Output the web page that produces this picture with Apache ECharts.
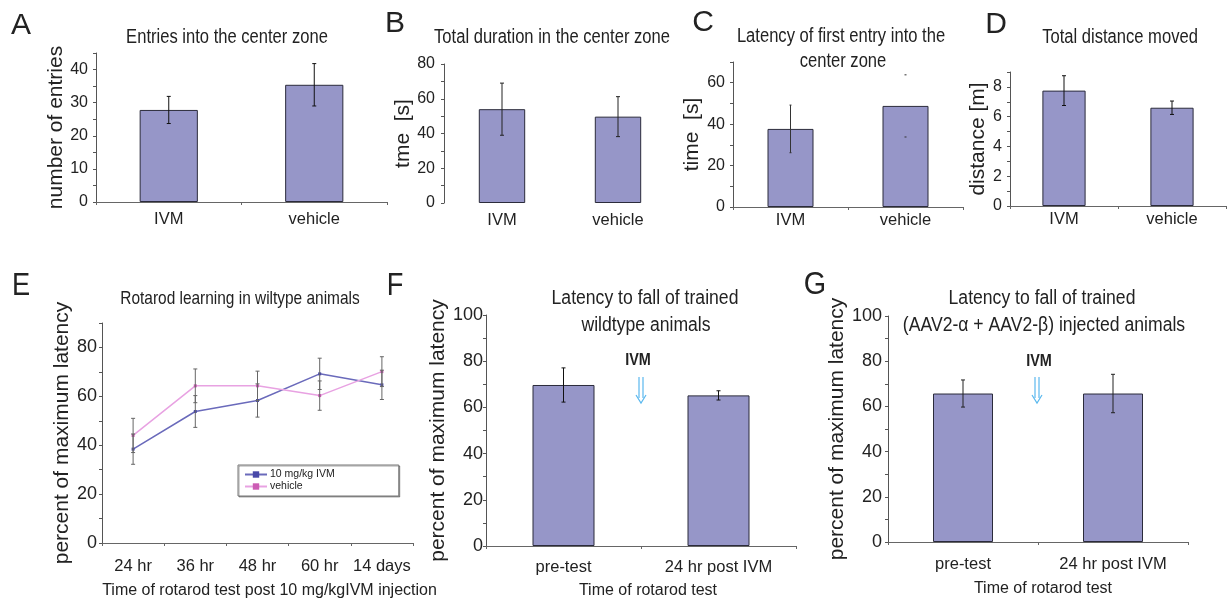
<!DOCTYPE html>
<html>
<head>
<meta charset="utf-8">
<script src="https://cdn.jsdelivr.net/npm/echarts@6/dist/echarts.min.js"></script>
<style>
  html, body { margin: 0; padding: 0; background: #fff; }
  #chart { width: 1227px; height: 605px; }
</style>
</head>
<body>
<div id="chart"></div>
<script>
// ---- data ----
const topCats = ['IVM', 'vehicle']
const entriesMean = [27.8, 35.4]
const entriesErr = [4.1, 6.4]
const durationMean = [54, 49.7]
const durationErr = [15, 11.5]
const latencyMean = [37.7, 48.8]
const latencyErr = [11.5, 15]
const distanceMean = [7.75, 6.6]
const distanceErr = [1, 0.45]

const rotarodCats = ['24 hr', '36 hr', '48 hr', '60 hr', '14 days']
const ivmLine = [38.4, 53.8, 58.3, 69.2, 64.7]
const ivmLineErr = [6.2, 6.5, 6.8, 6.4, 6]
const vehicleLine = [44, 64.3, 64.3, 60.3, 70.1]
const vehicleLineErr = [7, 6.9, 6, 6, 6.1]

const testCats = ['pre-test', '24 hr post IVM']
const wildtypeMean = [69.7, 65.2]
const wildtypeErr = [7.4, 2]
const aavMean = [65.7, 65.7]
const aavErr = [6, 8.5]

const FONT = '"Liberation Sans", Arial, sans-serif'
const TXT = '#222'
const BAR = '#9696c8'

const chart = echarts.init(document.getElementById('chart'), null, { renderer: 'canvas' })

// panel layout
const panels = [
  { grid: { left: 96, top: 53, width: 291, height: 149 }, cats: topCats, max: 45, step: 5, labelStep: 10,
    yName: 'number of entries', nameGap: 19, labelMargin: 8, tickFont: 16, catFont: 16.5, catMargin: 9, xLine: true },
  { grid: { left: 444, top: 64, width: 232, height: 139 }, cats: topCats, max: 80, step: 10, labelStep: 20,
    yName: 'tme  [s]', nameGap: 27, labelMargin: 9, tickFont: 16, catFont: 16.5, catMargin: 9, xLine: false },
  { grid: { left: 733, top: 62, width: 230, height: 145 }, cats: topCats, max: 70, step: 10, labelStep: 20,
    yName: 'time  [s]', nameGap: 30, labelMargin: 8, tickFont: 16, catFont: 16.5, catMargin: 5, xLine: true },
  { grid: { left: 1010, top: 72, width: 216, height: 134 }, cats: topCats, max: 9, step: 1, labelStep: 2,
    yName: 'distance [m]', nameGap: 16, labelMargin: 8, tickFont: 16, catFont: 16.5, catMargin: 5, xLine: true },
  { grid: { left: 102, top: 323, width: 311, height: 220 }, cats: rotarodCats, max: 90, step: 10, labelStep: 20,
    yName: 'percent of maximum latency', nameGap: 27, labelMargin: 5, tickFont: 18, catFont: 16.5, catMargin: 15, xLine: true,
    xName: 'Time of rotarod test post 10 mg/kgIVM injection', xNameGap: 40, xNameShift: 24 },
  { grid: { left: 486, top: 315, width: 310, height: 231 }, cats: testCats, max: 100, step: 10, labelStep: 20,
    yName: 'percent of maximum latency', nameGap: 25, labelMargin: 3, tickFont: 18, catFont: 16.5, catMargin: 13, xLine: true,
    xName: 'Time of rotarod test', xNameGap: 37, xNameShift: 14 },
  { grid: { left: 888, top: 316, width: 300, height: 226 }, cats: testCats, max: 100, step: 10, labelStep: 20,
    yName: 'percent of maximum latency', nameGap: 27, labelMargin: 6, tickFont: 18, catFont: 16.5, catMargin: 14, xLine: true,
    xName: 'Time of rotarod test', xNameGap: 39, xNameShift: 10 },
]

const grids = panels.map((p) => p.grid)

const xAxes = panels.map((p, i) => ({
  type: 'category',
  gridIndex: i,
  data: p.cats,
  axisLine: { show: p.xLine, lineStyle: { color: '#666', width: 1 } },
  axisTick: { show: p.xLine, length: 3, lineStyle: { color: '#666' } },
  axisLabel: { color: TXT, fontSize: p.catFont, fontFamily: FONT, margin: p.catMargin, interval: 0 },
  name: p.xName || '',
  nameLocation: 'middle',
  nameGap: p.xNameGap || 0,
  nameTextStyle: { color: TXT, fontSize: 16, fontFamily: FONT, padding: [0, 0, 0, p.xNameShift || 0] },
}))

const yAxes = panels.map((p, i) => ({
  type: 'value',
  gridIndex: i,
  min: 0,
  max: p.max,
  interval: p.step,
  splitLine: { show: false },
  axisLine: { show: true, lineStyle: { color: '#555', width: 1 } },
  axisTick: { show: true, length: 3, lineStyle: { color: '#555' } },
  axisLabel: {
    color: TXT, fontSize: p.tickFont, fontFamily: FONT, margin: p.labelMargin,
    formatter: (v) => (Math.round(v) % p.labelStep === 0 ? String(Math.round(v)) : ''),
  },
  name: p.yName,
  nameLocation: 'middle',
  nameGap: p.nameGap,
  nameTextStyle: { color: TXT, fontSize: 21, fontFamily: FONT },
}))

function barSeries(idx, name, values) {
  return {
    type: 'bar',
    name,
    xAxisIndex: idx,
    yAxisIndex: idx,
    data: values,
    barWidth: '40%',
    itemStyle: { color: BAR, borderColor: '#2b2b3b', borderWidth: 1 },
    silent: true,
  }
}

function errorSeries(idx, mean, err, opts) {
  return {
    type: 'custom',
    xAxisIndex: idx,
    yAxisIndex: idx,
    z: 5,
    silent: true,
    data: mean.map((m, i) => [i, m - err[i], m + err[i]]),
    encode: { x: 0, y: [1, 2] },
    renderItem: (params, api) => {
      const lo = api.coord([api.value(0), api.value(1)])
      const hi = api.coord([api.value(0), api.value(2)])
      const style = { stroke: opts.color, lineWidth: 1 }
      const cap = opts.cap
      const children = [
        { type: 'line', shape: { x1: lo[0] - cap, y1: lo[1], x2: lo[0] + cap, y2: lo[1] }, style },
        { type: 'line', shape: { x1: hi[0] - cap, y1: hi[1], x2: hi[0] + cap, y2: hi[1] }, style },
      ]
      if (!(opts.noStem && opts.noStem[params.dataIndex])) {
        children.push({ type: 'line', shape: { x1: lo[0], y1: lo[1], x2: hi[0], y2: hi[1] }, style })
      }
      return { type: 'group', children }
    },
  }
}

function lineSeries(idx, name, values, lineColor, dotColor) {
  return {
    type: 'line',
    name,
    xAxisIndex: idx,
    yAxisIndex: idx,
    data: values,
    symbol: 'rect',
    symbolSize: 3,
    showSymbol: true,
    lineStyle: { color: lineColor, width: 1.5 },
    itemStyle: { color: dotColor },
    z: 3,
  }
}

const series = [
  barSeries(0, 'entries', entriesMean),
  errorSeries(0, entriesMean, entriesErr, { color: '#111', cap: 2 }),
  barSeries(1, 'duration', durationMean),
  errorSeries(1, durationMean, durationErr, { color: '#222', cap: 2 }),
  barSeries(2, 'latency', latencyMean),
  errorSeries(2, latencyMean, latencyErr, { color: '#333', cap: 1, noStem: [false, true] }),
  barSeries(3, 'distance', distanceMean),
  errorSeries(3, distanceMean, distanceErr, { color: '#111', cap: 2 }),
  errorSeries(4, ivmLine, ivmLineErr, { color: '#666', cap: 2 }),
  errorSeries(4, vehicleLine, vehicleLineErr, { color: '#666', cap: 2 }),
  lineSeries(4, '10 mg/kg IVM', ivmLine, '#6a6abb', '#4848a8'),
  lineSeries(4, 'vehicle', vehicleLine, '#e8a2e2', '#cc5cb4'),
  barSeries(5, 'wildtype', wildtypeMean),
  errorSeries(5, wildtypeMean, wildtypeErr, { color: '#111', cap: 2 }),
  barSeries(6, 'aav', aavMean),
  errorSeries(6, aavMean, aavErr, { color: '#222', cap: 2 }),
]

// text drawn horizontally squeezed, like the condensed type in the figure
function label(text, x, y, size, sx, weight) {
  return {
    type: 'text',
    x, y,
    scaleX: sx,
    silent: true,
    style: {
      text, fill: TXT, fontSize: size, fontFamily: FONT, fontWeight: weight || 'normal',
      align: 'center', verticalAlign: 'middle',
    },
  }
}

function downArrow(x, y0, y1) {
  const st = { stroke: '#5ab8ee', lineWidth: 1.2, fill: null }
  return {
    type: 'group',
    silent: true,
    children: [
      { type: 'line', shape: { x1: x - 2, y1: y0, x2: x - 2, y2: y1 - 5 }, style: st },
      { type: 'line', shape: { x1: x + 2, y1: y0, x2: x + 2, y2: y1 - 5 }, style: st },
      { type: 'polyline', shape: { points: [[x - 5, y1 - 8], [x, y1], [x + 5, y1 - 8]] }, style: st },
    ],
  }
}

const graphics = [
  // panel letters
  label('A', 21, 26, 30, 1),
  label('B', 395, 24, 30, 1),
  label('C', 703, 23, 30, 1),
  label('D', 996, 25, 30, 1),
  label('E', 21, 286, 32, 0.85),
  label('F', 395, 286, 32, 0.85),
  label('G', 815, 285, 32, 0.9),
  // titles
  label('Entries into the center zone', 227, 38, 19.5, 0.85),
  label('Total duration in the center zone', 552, 38, 19.5, 0.85),
  label('Latency of first entry into the', 841, 37, 19.5, 0.85),
  label('center zone', 843, 62, 19.5, 0.85),
  label('Total distance moved', 1120, 38, 19.5, 0.85),
  label('Rotarod learning in wiltype animals', 240, 299, 18.6, 0.83),
  label('Latency to fall of trained', 645, 298, 20, 0.88),
  label('wildtype animals', 646, 325, 20, 0.88),
  label('Latency to fall of trained', 1042, 298, 20, 0.88),
  label('(AAV2-\u03b1 + AAV2-\u03b2) injected animals', 1044, 325, 20, 0.88),
  // IVM markers
  label('IVM', 638, 361, 16, 0.9, 'bold'),
  downArrow(641, 377, 403),
  label('IVM', 1039, 362, 16, 0.9, 'bold'),
  downArrow(1037, 377, 403),
]

chart.setOption({
  animation: false,
  backgroundColor: '#fff',
  grid: grids,
  xAxis: xAxes,
  yAxis: yAxes,
  legend: {
    data: ['10 mg/kg IVM', 'vehicle'],
    orient: 'vertical',
    left: 238,
    top: 465,
    itemGap: 1,
    itemWidth: 22,
    itemHeight: 8,
    padding: [4, 64, 4, 6],
    borderColor: '#777',
    borderWidth: 1,
    backgroundColor: '#fff',
    shadowColor: 'rgba(0,0,0,0.35)',
    shadowOffsetX: 1,
    shadowOffsetY: 1,
    textStyle: { color: TXT, fontSize: 10.5, fontFamily: FONT, padding: [0, 0, 0, -2] },
    selectedMode: false,
  },
  series,
  graphic: graphics,
})
</script>
</body>
</html>
